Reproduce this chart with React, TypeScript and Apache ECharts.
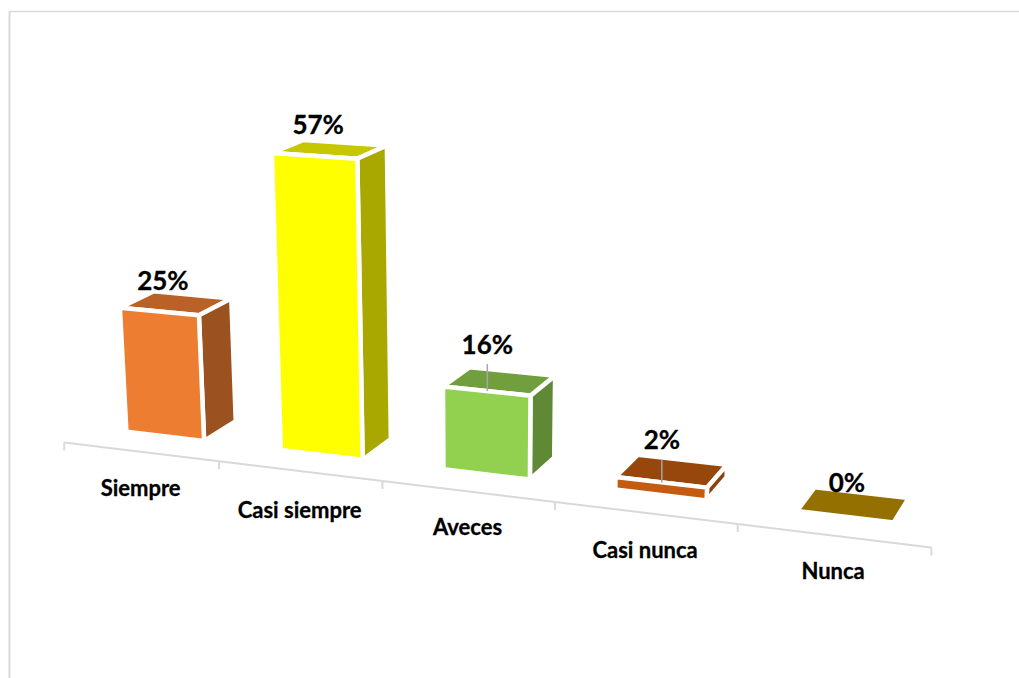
import React, { useEffect, useRef } from "react";
import * as echarts from "echarts";

const categories = ["Siempre", "Casi siempre", "Aveces", "Casi nunca", "Nunca"];
const values = [25, 57, 16, 2.4, 0];
const valueLabels = ["25%", "57%", "16%", "2%", "0%"];
const faceColors = [
  ["#ED7D31", "#B96126", "#9C5120"],
  ["#FFFF00", "#C7C700", "#A8A800"],
  ["#92D050", "#729F3E", "#608935"],
  ["#C55A11", "#97470C", "#8A410B"],
  ["#BF9000", "#947000", "#7F6000"],
];
// Space between a bar's front top edge and its label, and between the axis and a category name.
const labelLift = [32, 32, 47, 43, 35];
const labelNudge = [3, 3, 0, 0, 1];
const categoryDrop = [36, 39, 35, 37, 35];

// Camera of the 3D view: (category position, depth, value) -> screen.
const CAM_X = [60.951257, 149.49007, 34.017405, -0.35438355];
const CAM_Y = [444.23065, 6.7562363, -7.5419231, -5.2745267];
const CAM_W = [-0.026157382, 0.024151028, -0.00073631979];

const project = (u: number, D: number, H: number): number[] => {
  const w = 1 + CAM_W[0] * u + CAM_W[1] * D + CAM_W[2] * H;
  return [
    (CAM_X[0] + CAM_X[1] * u + CAM_X[2] * D + CAM_X[3] * H) / w,
    (CAM_Y[0] + CAM_Y[1] * u + CAM_Y[2] * D + CAM_Y[3] * H) / w,
  ];
};

const W = 1019;
const HH = 678;
const YMAX = 60;
const AXIS_DEPTH = 0.1;
const FRONT = 0.93;
const BACK = 2.05;
const BAR_FROM = 0.24;
const BAR_TO = 0.75;
const AXIS_COLOR = "#D9D9D9";

// Read a datum through the chart's hidden axes and express it in the camera's units.
const toModel = (api: any, i: number, v: number) => {
  const c = api.coord([i, v]);
  const band = api.size([1, 0])[0];
  return { u: c[0] / band - 0.5, h: ((HH - c[1]) / HH) * YMAX };
};

const axisItem = (_params: any, api: any) => {
  const i = api.value(0);
  const { u } = toModel(api, i, 0);
  const line = (a: number[], b: number[]) => ({
    type: "line",
    shape: { x1: a[0], y1: a[1], x2: b[0], y2: b[1] },
    style: { stroke: AXIS_COLOR, lineWidth: 2 },
  });
  const s = project(u, AXIS_DEPTH, 0);
  const e = project(u + 1, AXIS_DEPTH, 0);
  const mid = project(u + 0.5, AXIS_DEPTH, 0);
  const kids: any[] = [line(s, e), line(s, [s[0], s[1] + 8])];
  if (i === categories.length - 1) kids.push(line(e, [e[0], e[1] + 8]));
  kids.push({
    type: "text",
    x: mid[0],
    y: mid[1] + categoryDrop[i],
    style: {
      text: categories[i],
      fontFamily: "Lato",
      fontWeight: "bold",
      fontSize: 22,
      fill: "#000",
      stroke: "#000",
      lineWidth: 0.3,
      align: "center",
      verticalAlign: "middle",
    },
  });
  return { type: "group", children: kids };
};

const barItem = (_params: any, api: any) => {
  const i = api.value(0);
  const v = api.value(1);
  const { u, h } = toModel(api, i, v);
  const u0 = u + BAR_FROM;
  const u1 = u + BAR_TO;
  const poly = (pts: number[][], fill: string) => ({
    type: "polygon",
    shape: { points: pts },
    style: { fill, stroke: "#fff", lineWidth: 4.5, lineJoin: "miter" },
  });
  const [cf, ct, cs] = faceColors[i];
  const kids: any[] = [
    poly([project(u0, FRONT, h), project(u1, FRONT, h), project(u1, BACK, h), project(u0, BACK, h)], ct),
  ];
  if (v > 0) {
    kids.push(poly([project(u1, FRONT, 0), project(u1, BACK, 0), project(u1, BACK, h), project(u1, FRONT, h)], cs));
    kids.push(poly([project(u0, FRONT, 0), project(u1, FRONT, 0), project(u1, FRONT, h), project(u0, FRONT, h)], cf));
  }
  const c = project(u + 0.5, FRONT, h);
  if (labelLift[i] > 40) {
    kids.push({
      type: "line",
      shape: { x1: c[0], y1: c[1], x2: c[0], y2: c[1] - labelLift[i] + 20 },
      style: { stroke: "#A6A6A6", lineWidth: 1.5 },
    });
  }
  kids.push({
    type: "text",
    x: c[0] + labelNudge[i],
    y: c[1] - labelLift[i],
    style: {
      text: valueLabels[i],
      fontFamily: "Lato",
      fontWeight: "bold",
      fontSize: 26,
      fill: "#000",
      stroke: "#000",
      lineWidth: 0.3,
      align: "center",
      verticalAlign: "middle",
    },
  });
  return { type: "group", children: kids };
};

export default function App() {
  const ref = useRef<HTMLDivElement>(null);
  useEffect(() => {
    document.body.style.margin = "0";
    const chart = echarts.init(ref.current!, undefined, { renderer: "svg" });
    chart.setOption({
      animation: false,
      grid: { left: 0, right: 0, top: 0, bottom: 0 },
      xAxis: { type: "category", data: categories, show: false },
      yAxis: { type: "value", min: 0, max: YMAX, show: false },
      graphic: [
        { type: "line", shape: { x1: 9, y1: 11.5, x2: 1019, y2: 11.5 }, style: { stroke: AXIS_COLOR, lineWidth: 1.5 } },
        { type: "line", shape: { x1: 9.5, y1: 11, x2: 9.5, y2: 678 }, style: { stroke: AXIS_COLOR, lineWidth: 2 } },
      ],
      series: [
        { type: "custom", renderItem: axisItem, data: categories.map((_c, i) => [i, 0]), silent: true, clip: false },
        { type: "custom", renderItem: barItem, data: values.map((v, i) => [i, v]), silent: true, clip: false },
      ],
    });
    return () => chart.dispose();
  }, []);
  return <div ref={ref} style={{ width: W, height: HH }} />;
}
